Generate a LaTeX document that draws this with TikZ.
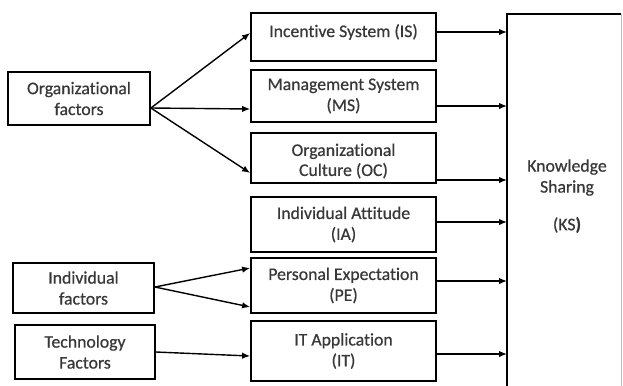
\documentclass[tikz,border=0pt]{standalone}
\usepackage{fontspec}
\setmainfont{Carlito}[Ligatures=CommonOff,FakeBold=0.6]
\usetikzlibrary{arrows.meta}
\begin{document}
\begin{tikzpicture}[x=1bp,y=-1bp,
  box/.style={draw=black, line width=1.8bp, rectangle, inner sep=0pt, align=center,
    font=\fontsize{17.8}{21}\selectfont, text=black!78},
  arr/.style={-{Latex[length=8bp,width=6.5bp]}, line width=1.4bp},
  lbl/.style={font=\fontsize{17.8}{21}\selectfont, text=black!78, align=center}]
\useasboundingbox (0,0) rectangle (623,385);
% left factor boxes
\node[box, minimum width=142bp, minimum height=53bp] (org) at (79,98.5) {Organizational\\factors};
\node[box, minimum width=141bp, minimum height=50bp] (ind) at (83.5,288) {Individual\\factors};
\node[box, minimum width=140bp, minimum height=54bp] (tech) at (85,352) {Technology\\Factors};
% middle boxes
\node[box, minimum width=185bp, minimum height=48bp] (is) at (343.5,37) {\raisebox{5bp}[\height][\depth]{Incentive System (IS)}};
\node[box, minimum width=185bp, minimum height=52bp] (ms) at (343.5,96) {Management System\\(MS)};
\node[box, minimum width=185bp, minimum height=50bp] (oc) at (343.5,158) {\raisebox{-3bp}[\height][\depth]{\shortstack{Organizational\\[1bp]Culture (OC)}}};
\node[box, minimum width=185bp, minimum height=55bp] (ia) at (343.5,224.5) {Individual Attitude\\(IA)};
\node[box, minimum width=185bp, minimum height=55bp] (pe) at (343.5,285.5) {Personal Expectation\\(PE)};
\node[box, minimum width=185bp, minimum height=60bp] (it) at (343.5,351) {IT Application\\(IT)};
% knowledge sharing box (runs off the bottom)
\coordinate (ksnw) at (507,14);
\coordinate (ksne) at (621,14);
\coordinate (kssw) at (507,392);
\coordinate (ksse) at (621,392);
\draw[line width=1.8bp] (kssw) -- (ksnw) -- (ksne);
\draw[line width=0.6bp, black!25] (ksne) -- (ksse);
\node[lbl] (ks) at (567,177.5) {Knowledge\\Sharing};
\node[lbl] (kslab) at (567,225) {(KS\textbf{)}};
% connectors from factors
\coordinate (orgout) at (org.east |- 0,108);
\draw[arr] (orgout) -- (is.west |- 0,33);
\draw[arr] (orgout) -- (ms.west |- 0,109);
\draw[arr] (orgout) -- (oc.west |- 0,173);
\coordinate (indout) at (ind.east |- 0,287);
\draw[arr] (indout) -- (pe.west |- 0,268);
\draw[arr] (indout) -- (pe.west |- 0,307);
\draw[arr] (tech.east |- 0,352) -- (it.west |- 0,356);
% connectors into KS
\draw[arr] (is.east |- 0,32) -- (ksnw |- 0,32);
\draw[arr] (ms.east |- 0,106) -- (ksnw |- 0,106);
\draw[arr] (oc.east |- 0,180) -- (ksnw |- 0,180);
\draw[arr] (ia.east |- 0,222) -- (ksnw |- 0,222);
\draw[arr] (pe.east |- 0,281) -- (ksnw |- 0,281);
\draw[arr] (it.east |- 0,354) -- (ksnw |- 0,354);
\end{tikzpicture}
\end{document}
